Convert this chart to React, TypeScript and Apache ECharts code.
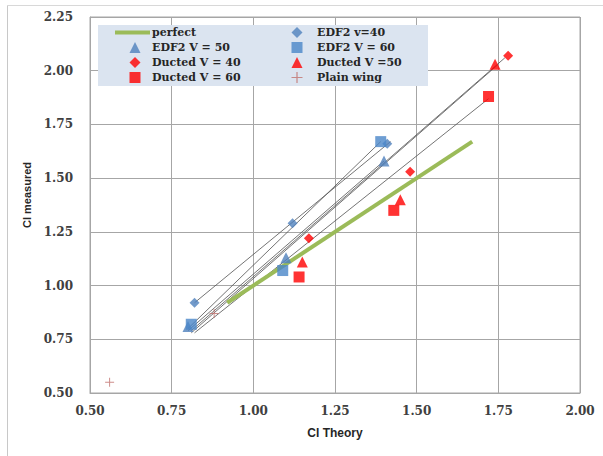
import React, { useEffect, useRef } from "react";
import * as echarts from "echarts";

// ---- data ----
const xTicks = [0.5, 0.75, 1.0, 1.25, 1.5, 1.75, 2.0];
const yTicks = [0.5, 0.75, 1.0, 1.25, 1.5, 1.75, 2.0, 2.25];

const perfect = [[0.92, 0.92], [1.67, 1.67]];
const edf40 = [[0.82, 0.92], [1.12, 1.29], [1.41, 1.66]];
const edf50 = [[0.8, 0.81], [1.1, 1.13], [1.4, 1.58]];
const edf60 = [[0.81, 0.82], [1.09, 1.07], [1.39, 1.67]];
const duct40 = [[1.17, 1.22], [1.48, 1.53], [1.78, 2.07]];
const duct50 = [[1.15, 1.11], [1.45, 1.4], [1.74, 2.03]];
const duct60 = [[1.14, 1.04], [1.43, 1.35], [1.72, 1.88]];
const plainWing = [[0.56, 0.55], [0.88, 0.87]];

// thin trend lines (start, end) per series
const trendEdf40 = [[0.82, 0.92], [1.42, 1.67]];
const trendEdf50 = [[0.8, 0.79], [1.4, 1.58]];
const trendEdf60 = [[0.8, 0.8], [1.39, 1.67]];
const trendDuct40 = [[0.81, 0.79], [1.77, 2.06]];
const trendDuct50 = [[0.81, 0.78], [1.75, 2.03]];
const trendDuct60 = [[0.82, 0.78], [1.72, 1.87]];

const legendLine = ["perfect"];
const legendCol1 = ["EDF2 V = 50", "Ducted V = 40", "Ducted V = 60"];
const legendCol2 = ["EDF2 v=40", "EDF2 V = 60", "Ducted V =50", "Plain wing"];

const BLUE = "#4f81bd";
const RED = "#ff0000";
const PLUS = "path://M4,0H5V4H9V5H5V9H4V5H0V4H4Z";

export default function App() {
  const ref = useRef<HTMLDivElement>(null);
  useEffect(() => {
    if (!ref.current) return;
    const chart = echarts.init(ref.current, undefined, { renderer: "svg" });
    const labelStyle = {
      fontFamily: "DejaVu Serif",
      fontWeight: "bold" as const,
      fontSize: 12,
      color: "#404040",
    };
    const gridColor = "#a6a6a6";
    const trend = (name: string, data: number[][]) => ({
      name,
      type: "line",
      data,
      symbol: "none",
      silent: true,
      z: 1,
      lineStyle: { color: "#505050", width: 0.8 },
    });
    const legendText = (padLeft: number) => ({
      fontFamily: "DejaVu Serif",
      fontWeight: "bold" as const,
      fontSize: 11,
      color: "#262626",
      padding: [0, 0, 0, padLeft],
    });
    chart.setOption({
      animation: false,
      backgroundColor: "#ffffff",
      grid: {
        left: 90,
        top: 17,
        width: 490,
        height: 376,
        show: true,
        borderColor: gridColor,
        borderWidth: 1,
      },
      xAxis: {
        type: "value",
        min: xTicks[0],
        max: xTicks[xTicks.length - 1],
        interval: 0.25,
        axisLabel: {
          ...labelStyle,
          margin: 12,
          formatter: (v: number) => v.toFixed(2),
        },
        axisLine: { show: true, lineStyle: { color: gridColor } },
        axisTick: { show: false },
        splitLine: { show: true, lineStyle: { color: gridColor } },
        name: "Cl Theory",
        nameLocation: "middle",
        nameGap: 34,
        nameTextStyle: {
          fontFamily: "Liberation Sans",
          fontWeight: "bold",
          fontSize: 12,
          color: "#262626",
        },
      },
      yAxis: {
        type: "value",
        min: yTicks[0],
        max: yTicks[yTicks.length - 1],
        interval: 0.25,
        axisLabel: {
          ...labelStyle,
          margin: 17,
          formatter: (v: number) => v.toFixed(2),
        },
        axisLine: { show: true, lineStyle: { color: gridColor } },
        axisTick: { show: false },
        splitLine: { show: true, lineStyle: { color: gridColor } },
        name: "Cl measured",
        nameLocation: "middle",
        nameGap: 55,
        nameTextStyle: {
          fontFamily: "Liberation Sans",
          fontWeight: "bold",
          fontSize: 11,
          color: "#262626",
          padding: [0, 0, 0, 20],
        },
      },
      legend: [
        {
          data: legendLine.map((n) => ({ name: n, icon: "rect" })),
          orient: "vertical",
          left: 115,
          top: 27,
          itemWidth: 35,
          itemHeight: 4,
          padding: 0,
          textStyle: legendText(-3),
          z: 5,
        },
        {
          data: legendCol1,
          orient: "vertical",
          left: 129.5,
          top: 42,
          itemWidth: 11,
          itemHeight: 11,
          itemGap: 4,
          padding: 0,
          textStyle: legendText(6.5),
          z: 5,
        },
        {
          data: legendCol2,
          orient: "vertical",
          left: 291.5,
          top: 27,
          itemWidth: 11,
          itemHeight: 11,
          itemGap: 4,
          padding: 0,
          textStyle: legendText(9.5),
          z: 5,
        },
      ],
      graphic: [
        {
          type: "rect",
          left: 98,
          top: 25,
          shape: { width: 330, height: 61 },
          style: { fill: "#dbe4f0" },
          z: 3,
          silent: true,
        },
        {
          type: "line",
          shape: { x1: 7.5, y1: 5, x2: 7.5, y2: 456 },
          style: { stroke: "#c8c8c8", lineWidth: 1 },
          silent: true,
        },
        {
          type: "line",
          shape: { x1: 7, y1: 5.5, x2: 603, y2: 5.5 },
          style: { stroke: "#d8d8d8", lineWidth: 1 },
          silent: true,
        },
      ],
      series: [
        trend("t1", trendEdf40),
        trend("t2", trendEdf50),
        trend("t3", trendEdf60),
        trend("t4", trendDuct40),
        trend("t5", trendDuct50),
        trend("t6", trendDuct60),
        {
          name: "perfect",
          type: "line",
          data: perfect,
          symbol: "none",
          z: 2,
          lineStyle: { color: "#9bbb59", width: 4 },
          itemStyle: { color: "#9bbb59" },
        },
        {
          name: "EDF2 v=40",
          type: "scatter",
          data: edf40,
          symbol: "diamond",
          symbolSize: 10,
          itemStyle: { color: BLUE },
        },
        {
          name: "EDF2 V = 50",
          type: "scatter",
          data: edf50,
          symbol: "triangle",
          symbolSize: 11,
          itemStyle: { color: BLUE },
        },
        {
          name: "EDF2 V = 60",
          type: "scatter",
          data: edf60,
          symbol: "rect",
          symbolSize: 11,
          itemStyle: { color: "#4a86c8" },
        },
        {
          name: "Ducted V = 40",
          type: "scatter",
          data: duct40,
          symbol: "diamond",
          symbolSize: 10,
          itemStyle: { color: RED },
        },
        {
          name: "Ducted V =50",
          type: "scatter",
          data: duct50,
          symbol: "triangle",
          symbolSize: 11,
          itemStyle: { color: RED },
        },
        {
          name: "Ducted V = 60",
          type: "scatter",
          data: duct60,
          symbol: "rect",
          symbolSize: 11,
          itemStyle: { color: RED },
        },
        {
          name: "Plain wing",
          type: "scatter",
          data: plainWing,
          symbol: PLUS,
          symbolSize: 9,
          itemStyle: { color: "#c0706d" },
        },
      ],
    });
    return () => chart.dispose();
  }, []);
  return (
    <div
      ref={ref}
      style={{ position: "fixed", left: 0, top: 0, width: 603, height: 456 }}
    />
  );
}
